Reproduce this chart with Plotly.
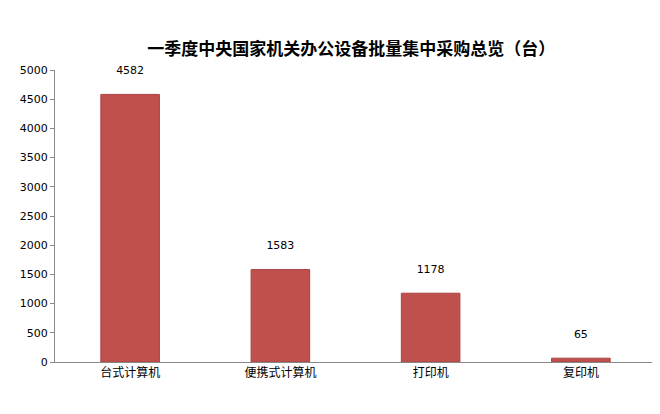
import plotly.graph_objects as go

categories = ["台式计算机", "便携式计算机", "打印机", "复印机"]
values = [4582, 1583, 1178, 65]
y_ticks = [0, 500, 1000, 1500, 2000, 2500, 3000, 3500, 4000, 4500, 5000]

fig = go.Figure(go.Bar(
    x=categories, y=values,
    marker=dict(color="#C0504D", line=dict(color="#A94442", width=1)),
    text=[f"{v}<br> " for v in values], textposition="outside",
    textfont=dict(size=11, color="black", family="DejaVu Sans"),
    width=0.39, cliponaxis=False,
))

fig.update_layout(
    title=dict(text="<b>一季度中央国家机关办公设备批量集中采购总览（台）</b>",
               x=0.52, xanchor="center", y=0.915,
               font=dict(size=17, color="black", family="Noto Sans CJK SC")),
    width=660, height=414,
    margin=dict(l=47, r=12, t=62, b=60),
    plot_bgcolor="white", paper_bgcolor="white",
    showlegend=False,
    font=dict(family="Noto Sans CJK SC", size=12, color="black"),
)
fig.update_xaxes(showline=True, linecolor="#888888", ticks="outside",
                 tickcolor="#888888", ticklen=0, showgrid=False,
                 tickfont=dict(size=12))
fig.update_yaxes(range=[0, 5000], tickvals=y_ticks, showline=True,
                 linecolor="#888888", ticks="outside", tickcolor="#888888",
                 ticklen=4, showgrid=False, zeroline=False,
                 tickfont=dict(size=11, family="DejaVu Sans"))

fig.write_html("out.html")
